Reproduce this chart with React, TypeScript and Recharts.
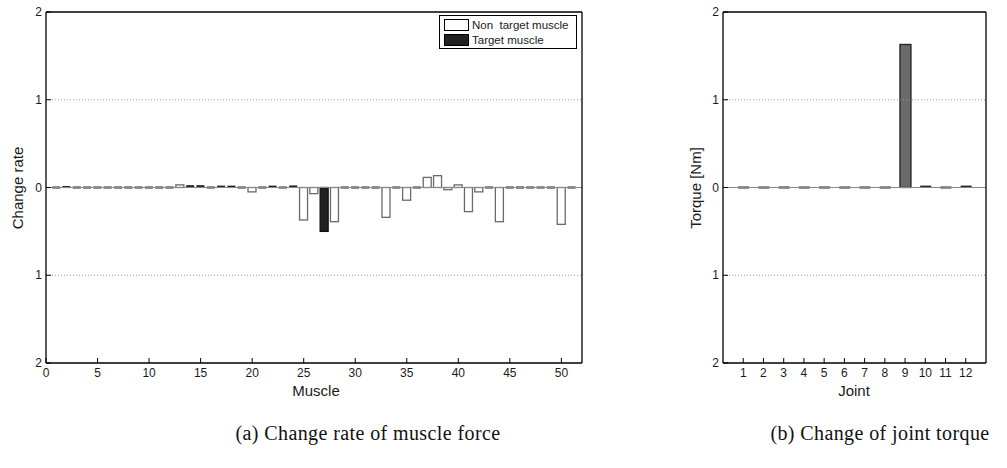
import React from "react";
import { BarChart, Bar, XAxis, YAxis, ReferenceLine, Legend } from "recharts";

// (a) muscle force change rate, muscles 1..51
const muscleIds = [
  1, 2, 3, 4, 5, 6, 7, 8, 9, 10, 11, 12, 13, 14, 15, 16, 17, 18, 19, 20, 21, 22, 23, 24, 25, 26,
  27, 28, 29, 30, 31, 32, 33, 34, 35, 36, 37, 38, 39, 40, 41, 42, 43, 44, 45, 46, 47, 48, 49, 50, 51,
];
const changeRate = [
  0, 0.005, 0, 0, 0, 0, 0, 0, 0, 0, 0, 0, 0.03, 0.015, 0.015, 0, 0.01, 0.01, 0, -0.05, 0, 0.01, 0,
  0.012, -0.37, -0.07, -0.5, -0.39, 0, 0, 0, 0, -0.34, 0, -0.145, 0, 0.115, 0.135, -0.025, 0.03,
  -0.275, -0.05, 0, -0.39, 0, 0, 0, 0, 0, -0.42, 0,
];
const targetMuscle = 27;
const muscleTicks = [0, 5, 10, 15, 20, 25, 30, 35, 40, 45, 50];

// (b) joint torque change
const jointIds = [1, 2, 3, 4, 5, 6, 7, 8, 9, 10, 11, 12];
const torqueChange = [0, 0, 0, 0, 0, 0, 0, 0, 1.63, 0.01, -0.015, 0.01];

const yTicks = [-2, -1, 0, 1, 2];
const yTickLabels = ["2", "1", "0", "1", "2"];
const legendLabels = ["Non  target muscle", "Target muscle"];

const muscleRows = muscleIds.map((m, i) => ({ muscle: m, rate: changeRate[i] }));
const jointRows = jointIds.map((j, i) => ({ joint: j, torque: torqueChange[i] }));

const sans = "'Liberation Sans', Arial, Helvetica, sans-serif";
const ink = "#1a1a1a";
const tickText = { fontFamily: sans, fontSize: 12, fill: ink };

const BottomTick = ({ x, y, payload }: any) => (
  <g>
    <line x1={x} x2={x} y1={y} y2={y - 5} stroke="#000" strokeWidth={1} />
    <text x={x} y={y + 14} textAnchor="middle" {...tickText}>
      {payload.value}
    </text>
  </g>
);
const TopTick = ({ x, y }: any) => <line x1={x} x2={x} y1={y} y2={y + 5} stroke="#000" strokeWidth={1} />;
const LeftTick = ({ x, y, payload }: any) => (
  <g>
    <line x1={x} x2={x + 5} y1={y} y2={y} stroke="#000" strokeWidth={1} />
    <text x={x - 4} y={y + 4} textAnchor="end" {...tickText}>
      {yTickLabels[yTicks.indexOf(payload.value)]}
    </text>
  </g>
);
const RightTick = ({ x, y }: any) => <line x1={x} x2={x - 5} y1={y} y2={y} stroke="#000" strokeWidth={1} />;

const barShape = (fillFor: (p: any) => string, strokeFor: (p: any) => string) => (props: any) => {
  const { x, y, width, height, payload } = props;
  const top = Math.min(y, y + height);
  const h = Math.abs(height);
  if (h < 2) {
    return <rect x={x} y={top - 1} width={width} height={2} fill="#222" />;
  }
  return (
    <rect x={x} y={top} width={width} height={h} fill={fillFor(payload)} stroke={strokeFor(payload)} strokeWidth={1.3} />
  );
};

const muscleShape = barShape(
  (p) => (p.muscle === targetMuscle ? "#222" : "#fff"),
  (p) => (p.muscle === targetMuscle ? "#111" : "#6a6a6a")
);
const jointShape = barShape(
  () => "#6b6b6b",
  () => "#222"
);

const MuscleLegend = () => (
  <div
    style={{
      position: "absolute",
      left: 440,
      top: 16,
      width: 136,
      height: 32,
      boxSizing: "border-box",
      outline: "1px solid #000",
      background: "#fff",
      fontFamily: sans,
      fontSize: 11.5,
      color: ink,
    }}
  >
    {legendLabels.map((label, i) => (
      <div key={label} style={{ position: "absolute", left: 4, top: 3 + i * 15, display: "flex", alignItems: "center", height: 12 }}>
        <span
          style={{
            display: "inline-block",
            width: 23,
            height: 10,
            border: "1px solid #000",
            background: i === 0 ? "#fff" : "#222",
            marginRight: 3,
          }}
        />
        <span style={{ whiteSpace: "pre" }}>{label}</span>
      </div>
    ))}
  </div>
);

const axisTitle = (text: string, left: number, top: number, rotate = false) => (
  <div
    style={{
      position: "absolute",
      left,
      top,
      transform: `translate(-50%, -50%)${rotate ? " rotate(-90deg)" : ""}`,
      fontFamily: sans,
      fontSize: 15,
      color: ink,
      whiteSpace: "nowrap",
    }}
  >
    {text}
  </div>
);

const caption = (text: string, left: number) => (
  <div
    style={{
      position: "absolute",
      left,
      top: 433,
      transform: "translate(-50%, -50%)",
      fontFamily: "'Liberation Serif', 'DejaVu Serif', serif",
      fontSize: 20,
      letterSpacing: 0.4,
      color: "#111",
      whiteSpace: "nowrap",
    }}
  >
    {text}
  </div>
);

const frameLines = (xMin: number, xMax: number) => [
  <ReferenceLine key="fl" x={xMin} stroke="#000" strokeWidth={1.3} />,
  <ReferenceLine key="fr" x={xMax} stroke="#000" strokeWidth={1.3} />,
  <ReferenceLine key="ft" y={2} stroke="#000" strokeWidth={1.3} />,
  <ReferenceLine key="fb" y={-2} stroke="#000" strokeWidth={1.3} />,
];

const App = () => {
  return (
    <div style={{ position: "absolute", left: 0, top: 0, width: 1007, height: 468, background: "#fff" }}>
      <div style={{ position: "absolute", left: 0, top: 0 }}>
        <BarChart width={600} height={400} data={muscleRows} margin={{ top: 12, right: 18, left: 6, bottom: 12 }}>
          <XAxis
            dataKey="muscle"
            type="number"
            domain={[0, 52]}
            ticks={muscleTicks}
            interval={0}
            height={25}
            tickSize={0}
            tickMargin={0}
            tickLine={false}
            tick={BottomTick}
            axisLine={false}
          />
          <XAxis
            xAxisId="top"
            orientation="top"
            type="number"
            domain={[0, 52]}
            ticks={muscleTicks}
            interval={0}
            height={0}
            tickSize={0}
            tickMargin={0}
            tickLine={false}
            tick={TopTick}
            axisLine={false}
          />
          <YAxis
            domain={[-2, 2]}
            ticks={yTicks}
            interval={0}
            width={40}
            tickSize={0}
            tickMargin={0}
            tickLine={false}
            tick={LeftTick}
            axisLine={false}
          />
          <YAxis
            yAxisId="right"
            orientation="right"
            domain={[-2, 2]}
            ticks={yTicks}
            interval={0}
            width={0}
            tickSize={0}
            tickMargin={0}
            tickLine={false}
            tick={RightTick}
            axisLine={false}
          />
          <ReferenceLine y={1} stroke="#999" strokeDasharray="1 2" />
          <ReferenceLine y={-1} stroke="#999" strokeDasharray="1 2" />
          <ReferenceLine y={0} stroke="#888" />
          <Bar dataKey="rate" barSize={8} shape={muscleShape} isAnimationActive={false} />
          {frameLines(0, 52)}
          <Legend content={() => null} />
        </BarChart>
        <MuscleLegend />
      </div>
      {axisTitle("Change rate", 17, 188, true)}
      {axisTitle("Muscle", 316, 390)}

      <div style={{ position: "absolute", left: 660, top: 0 }}>
        <BarChart width={347} height={400} data={jointRows} margin={{ top: 12, right: 21, left: 23, bottom: 12 }}>
          <XAxis
            dataKey="joint"
            type="number"
            domain={[0, 13]}
            ticks={jointIds}
            interval={0}
            height={25}
            tickSize={0}
            tickMargin={0}
            tickLine={false}
            tick={BottomTick}
            axisLine={false}
          />
          <XAxis
            xAxisId="top"
            orientation="top"
            type="number"
            domain={[0, 13]}
            ticks={jointIds}
            interval={0}
            height={0}
            tickSize={0}
            tickMargin={0}
            tickLine={false}
            tick={TopTick}
            axisLine={false}
          />
          <YAxis
            domain={[-2, 2]}
            ticks={yTicks}
            interval={0}
            width={40}
            tickSize={0}
            tickMargin={0}
            tickLine={false}
            tick={LeftTick}
            axisLine={false}
          />
          <YAxis
            yAxisId="right"
            orientation="right"
            domain={[-2, 2]}
            ticks={yTicks}
            interval={0}
            width={0}
            tickSize={0}
            tickMargin={0}
            tickLine={false}
            tick={RightTick}
            axisLine={false}
          />
          <ReferenceLine y={1} stroke="#999" strokeDasharray="1 2" />
          <ReferenceLine y={-1} stroke="#999" strokeDasharray="1 2" />
          <ReferenceLine y={0} stroke="#888" />
          <Bar dataKey="torque" barSize={11} shape={jointShape} isAnimationActive={false} />
          {frameLines(0, 13)}
        </BarChart>
      </div>
      {axisTitle("Torque [Nm]", 695, 188, true)}
      {axisTitle("Joint", 854, 390)}

      {caption("(a) Change rate of muscle force", 368)}
      {caption("(b) Change of joint torque", 880)}
    </div>
  );
};

export default App;
